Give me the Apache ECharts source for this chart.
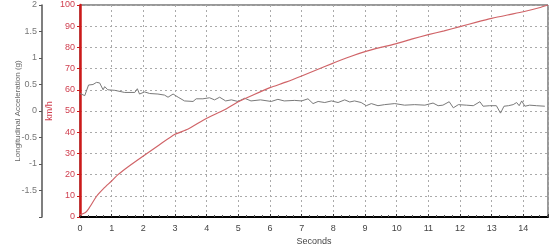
<!DOCTYPE html>
<html><head><meta charset="utf-8">
<script src="https://cdn.jsdelivr.net/npm/echarts@6/dist/echarts.min.js"></script>
<style>html,body{margin:0;padding:0;background:#fff}#c{width:550px;height:249px}</style>
</head><body><div id="c"></div>
<script>
// Speed (km/h) vs time (s)
var speedT = [0,0.16,0.26,0.53,0.75,1.0,1.2,1.5,2.0,2.5,3.0,3.4,4.0,4.55,5.0,5.5,6.0,6.5,7.0,7.5,8.0,8.5,9.0,9.5,10.0,10.5,11.0,11.5,12.0,12.5,13.0,13.5,14.0,14.5,14.78];
var speedV = [1,2,3.6,9.9,13.5,17,20,23.5,28.8,34,39,41.4,46.6,50.5,54.4,57.8,61,63.6,66.5,69.6,72.6,75.5,78,80,81.8,84,86,87.8,89.8,91.8,93.7,95.3,96.8,98.7,100];
// Longitudinal acceleration (g) vs time (s)
var accT = [0,0.15,0.27,0.41,0.52,0.62,0.73,0.78,0.88,1.1,1.41,1.73,1.81,1.88,2.04,2.2,2.46,2.67,2.78,2.94,3.1,3.3,3.57,3.67,3.88,4.09,4.25,4.41,4.6,4.78,4.99,5.2,5.4,5.7,6.04,6.25,6.45,6.78,7.0,7.2,7.36,7.52,7.73,7.94,8.15,8.36,8.52,8.67,8.88,9.04,9.2,9.41,9.62,9.94,10.25,10.57,10.89,11.15,11.31,11.46,11.66,11.79,11.95,12.2,12.42,12.63,12.73,12.94,13.15,13.28,13.39,13.53,13.68,13.79,13.87,13.95,14.05,14.2,14.42,14.68];
var accG = [0.33,0.29,0.49,0.5,0.54,0.53,0.40,0.46,0.40,0.39,0.35,0.35,0.42,0.32,0.36,0.33,0.32,0.30,0.26,0.32,0.26,0.19,0.18,0.23,0.23,0.25,0.21,0.26,0.19,0.21,0.18,0.24,0.19,0.21,0.18,0.22,0.19,0.2,0.19,0.23,0.14,0.18,0.16,0.19,0.16,0.21,0.17,0.19,0.16,0.10,0.14,0.10,0.12,0.14,0.11,0.12,0.11,0.15,0.10,0.11,0.175,0.06,0.12,0.11,0.10,0.175,0.09,0.10,0.10,-0.04,0.09,0.10,0.12,0.16,0.10,0.19,0.09,0.11,0.10,0.09];

var speedData = speedT.map(function(t,i){return [t, speedV[i]];});
var accData = accT.map(function(t,i){return [t, accG[i]];});

var chart = echarts.init(document.getElementById('c'), null, {renderer:'canvas'});
chart.setOption({
  animation:false,
  backgroundColor:'#fff',
  grid:{left:80,right:2,top:5,bottom:32,containLabel:false,outerBoundsMode:'none',show:true,borderColor:'#333',borderWidth:1,backgroundColor:'transparent'},
  xAxis:{
    type:'value',min:0,max:14.78,interval:1,
    name:'Seconds',nameLocation:'middle',nameGap:20,nameMoveOverlap:false,
    nameTextStyle:{fontFamily:'Liberation Sans',fontSize:9,color:'#444'},
    axisLine:{show:true,onZero:false,lineStyle:{color:'#000',width:2}},
    axisTick:{show:true,inside:true,length:3,lineStyle:{color:'#333'}},
    minorTick:{show:true,splitNumber:4,length:2,lineStyle:{color:'#555'}},
    axisLabel:{fontFamily:'Liberation Sans',fontSize:9,color:'#444',margin:7,
      formatter:function(v){return Math.abs(v-Math.round(v))<1e-6?String(Math.round(v)):'';}},
    splitLine:{show:true,lineStyle:{color:'#aaa',type:[2,3],width:1}}
  },
  yAxis:[
    {
      type:'value',min:0,max:100,interval:10,position:'left',
      name:'km/h',nameLocation:'middle',nameGap:26,nameRotate:90,nameMoveOverlap:false,
      nameTextStyle:{fontFamily:'Liberation Sans',fontSize:9,color:'#d04050'},
      axisLine:{show:true,onZero:false,lineStyle:{color:'#cc1a1a',width:2.5}},
      axisTick:{show:true,length:3,lineStyle:{color:'#cc1a1a'}},
      axisLabel:{fontFamily:'Liberation Sans',fontSize:9,color:'#d04050',margin:5},
      splitLine:{show:true,lineStyle:{color:'#aaa',type:[2,3],width:1}}
    },
    {
      type:'value',min:-2,max:2,interval:0.5,position:'left',offset:38,
      name:'Longitudinal Acceleration (g)',nameLocation:'middle',nameGap:20,nameRotate:90,nameMoveOverlap:false,
      nameTextStyle:{fontFamily:'Liberation Sans',fontSize:8,color:'#666'},
      axisLine:{show:true,onZero:false,lineStyle:{color:'#555',width:1.5}},
      axisTick:{show:true,length:3,lineStyle:{color:'#555'}},
      axisLabel:{fontFamily:'Liberation Sans',fontSize:9,color:'#777',margin:5,
        formatter:function(v){return v===-2?'':String(v);}},
      splitLine:{show:false}
    }
  ],
  series:[
    {type:'line',yAxisIndex:1,data:accData,showSymbol:false,symbol:'none',
     lineStyle:{color:'#7a7a7a',width:1},z:3},
    {type:'line',yAxisIndex:0,data:speedData,showSymbol:false,symbol:'none',smooth:0.2,
     lineStyle:{color:'#d06468',width:1.2},z:4}
  ]
});
</script></body></html>
